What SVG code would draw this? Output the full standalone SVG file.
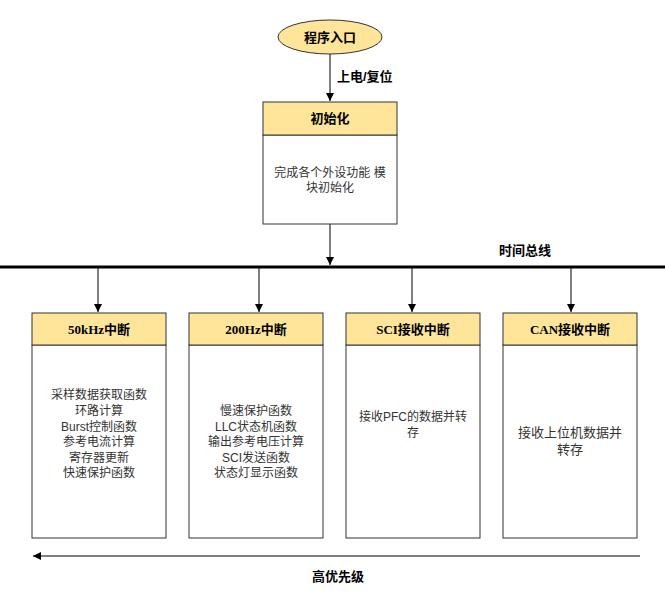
<svg xmlns="http://www.w3.org/2000/svg" width="665" height="591" viewBox="0 0 665 591">
<defs>
<style>
.h{fill:#FFE599;stroke:#333;stroke-width:1}
.b{fill:#fff;stroke:#333;stroke-width:1}
.ht{font-family:"Liberation Serif","Noto Sans CJK SC",serif;font-weight:bold;font-size:13px;fill:#000;text-anchor:middle}
.bt{font-family:"Liberation Sans","Noto Sans CJK SC",sans-serif;font-size:12px;fill:#333;text-anchor:middle}
.lt{font-family:"Liberation Sans","Noto Sans CJK SC",sans-serif;font-weight:bold;font-size:13px;fill:#000}
.c{stroke:#000;stroke-width:1;fill:none;marker-end:url(#a)}
</style>
<marker id="a" markerWidth="10" markerHeight="10" refX="8" refY="5" orient="auto" markerUnits="userSpaceOnUse"><path d="M0,1 L8,5 L0,9 Z" fill="#000"/></marker>
</defs>
<rect width="665" height="591" fill="#fff"/>
<g id="connectors">
<line class="c" x1="330" y1="54" x2="330" y2="101"/>
<line class="c" x1="330" y1="224" x2="330" y2="265"/>
<line x1="0" y1="267" x2="665" y2="267" stroke="#000" stroke-width="3"/>
<line class="c" x1="98" y1="268" x2="98" y2="312"/>
<line class="c" x1="259" y1="268" x2="259" y2="312"/>
<line class="c" x1="412" y1="268" x2="412" y2="312"/>
<line class="c" x1="571" y1="268" x2="571" y2="312"/>
<line class="c" x1="640" y1="556" x2="33" y2="556"/>
<text class="lt" x="337" y="81">上电/复位</text>
<text class="lt" x="499" y="255">时间总线</text>
<text class="lt" x="312" y="581">高优先级</text>
</g>
<g id="start"><ellipse cx="330" cy="37" rx="52" ry="17" class="h"/><text class="ht" x="330" y="42">程序入口</text></g>
<g id="init"><rect class="b" x="263" y="135" width="134" height="89"/><rect class="h" x="263" y="102" width="134" height="33"/><text class="ht" x="330" y="123">初始化</text>
<text class="bt" x="330" y="177">完成各个外设功能 模</text><text class="bt" x="330" y="192">块初始化</text></g>
<g id="n50k"><rect class="b" x="32" y="345" width="134" height="193"/><rect class="h" x="32" y="313" width="134" height="32"/><text class="ht" x="99" y="334">50kHz中断</text>
<text class="bt" x="99" y="399">采样数据获取函数</text><text class="bt" x="99" y="415">环路计算</text><text class="bt" x="99" y="431">Burst控制函数</text><text class="bt" x="99" y="446">参考电流计算</text><text class="bt" x="99" y="462">寄存器更新</text><text class="bt" x="99" y="477">快速保护函数</text></g>
<g id="n200"><rect class="b" x="189" y="345" width="134" height="193"/><rect class="h" x="189" y="313" width="134" height="32"/><text class="ht" x="256" y="334">200Hz中断</text>
<text class="bt" x="256" y="415">慢速保护函数</text><text class="bt" x="256" y="431">LLC状态机函数</text><text class="bt" x="256" y="446">输出参考电压计算</text><text class="bt" x="256" y="462">SCI发送函数</text><text class="bt" x="256" y="477">状态灯显示函数</text></g>
<g id="nsci"><rect class="b" x="346" y="345" width="134" height="193"/><rect class="h" x="346" y="313" width="134" height="32"/><text class="ht" x="413" y="334">SCI接收中断</text>
<text class="bt" x="413" y="421">接收PFC的数据并转</text><text class="bt" x="413" y="437">存</text></g>
<g id="ncan"><rect class="b" x="503" y="345" width="134" height="193"/><rect class="h" x="503" y="313" width="134" height="32"/><text class="ht" x="570" y="334">CAN接收中断</text>
<text class="bt" x="570" y="437" style="font-size:13px">接收上位机数据并</text><text class="bt" x="570" y="454" style="font-size:13px">转存</text></g>
</svg>
